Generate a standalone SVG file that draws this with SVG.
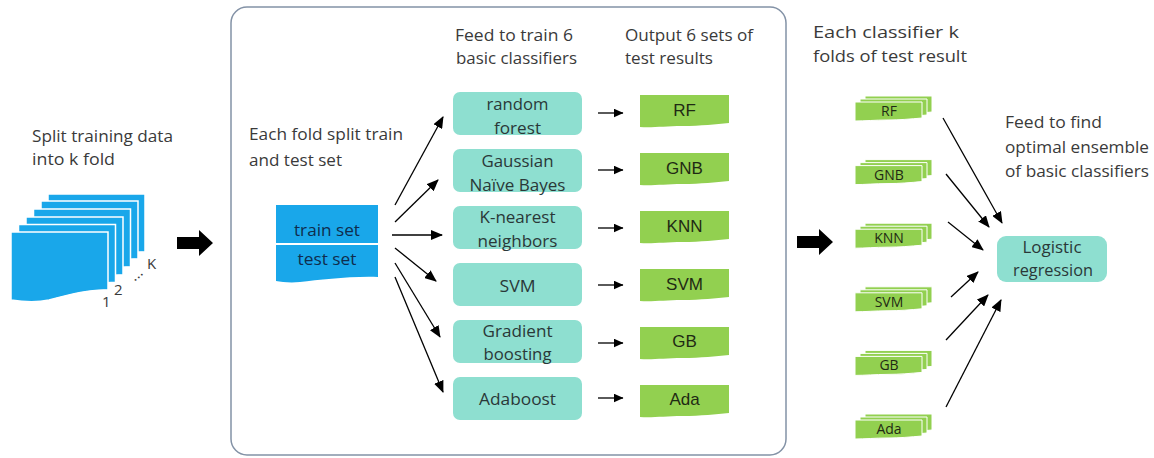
<svg xmlns="http://www.w3.org/2000/svg" xmlns:xlink="http://www.w3.org/1999/xlink" width="1154" height="458" viewBox="0 0 1154 458">
<style>
.lbl{font-family:"Open Sans","Liberation Sans",sans-serif;font-size:16.5px;fill:#3a3a3a}
.cls{font-family:"Open Sans","Liberation Sans",sans-serif;font-size:16.5px;fill:#2a3838;text-anchor:middle}
.res{font-family:"Liberation Sans",Arial,sans-serif;font-size:17px;fill:#1f2a14;text-anchor:middle}
.stk{font-family:"Open Sans","Liberation Sans",sans-serif;font-size:14px;fill:#1f2a14;text-anchor:middle}
.tt{font-family:"Open Sans","Liberation Sans",sans-serif;font-size:16.5px;fill:#0f2d4d;text-anchor:middle}
.sm{font-family:"Open Sans","Liberation Sans",sans-serif;font-size:15px;fill:#3a3a3a}
.teal{fill:#8edfd0}
.green{fill:#92d050}
.blue{fill:#19a7ea}
.sheet{fill:#19a7ea;stroke:#ffffff;stroke-width:1.5}
.layer{fill:#92d050;stroke:#ffffff;stroke-width:1}
.conn line{stroke:#000;stroke-width:1.3}
</style>
<defs>
<marker id="ah" viewBox="0 0 12 10" refX="11" refY="5" markerWidth="12" markerHeight="10" markerUnits="userSpaceOnUse" orient="auto"><path d="M0,0 L12,5 L0,10 z" fill="#000"/></marker>
<marker id="ahs" viewBox="0 0 10 9" refX="9.5" refY="4.5" markerWidth="10" markerHeight="9" markerUnits="userSpaceOnUse" orient="auto"><path d="M0,0 L10,4.5 L0,9 z" fill="#000"/></marker>
<path id="sheet" d="M0,0 H97 V58 C80,57 60,62 38,68 C25,71 12,70 0,68 Z"/>
<path id="res" d="M0,0 H89 V28 C75,29 62,31 42,31 C25,31 12,33 0,32 Z"/>
<path id="lay" d="M0,0 H67 V16 C55,17 45,18 32,18 C20,18 10,19 0,19 Z"/>
</defs>
<rect width="1154" height="458" fill="#ffffff"/>

<g id="split-label">
<text class="lbl" x="32" y="142" textLength="141" lengthAdjust="spacingAndGlyphs">Split training data</text>
<text class="lbl" x="32" y="165" textLength="83" lengthAdjust="spacingAndGlyphs">into k fold</text>
</g>

<g id="folds">
<use href="#sheet" class="sheet" x="48" y="194"/>
<use href="#sheet" class="sheet" x="41" y="201"/>
<use href="#sheet" class="sheet" x="33.5" y="209"/>
<use href="#sheet" class="sheet" x="26" y="217"/>
<use href="#sheet" class="sheet" x="18.5" y="224.5"/>
<use href="#sheet" class="sheet" x="11" y="232"/>
<text class="sm" x="147" y="269">K</text>
<text class="sm" x="130" y="279" transform="rotate(-40 136 274)">...</text>
<text class="sm" x="114" y="295">2</text>
<text class="sm" x="102" y="307">1</text>
</g>

<g id="big-arrow-1"><path d="M177,237 H199 V230 L213,243 L199,256 V249 H177 Z" fill="#000"/></g>

<g id="stage-box"><rect x="231" y="7" width="555" height="448" rx="16" fill="none" stroke="#8392a6" stroke-width="1.5"/></g>

<g id="fold-label">
<text class="lbl" x="249" y="140" textLength="154" lengthAdjust="spacingAndGlyphs">Each fold split train</text>
<text class="lbl" x="249" y="166" textLength="93" lengthAdjust="spacingAndGlyphs">and test set</text>
</g>

<g id="train-test">
<rect class="blue" x="276" y="205" width="102" height="38"/>
<path class="blue" d="M276,245 H378 V277 C350,276 320,280 300,282 C290,283 282,282 276,281 Z"/>
<text class="tt" x="327" y="236" textLength="66" lengthAdjust="spacingAndGlyphs">train set</text>
<text class="tt" x="327" y="265" textLength="59" lengthAdjust="spacingAndGlyphs">test set</text>
</g>

<g id="headers">
<text class="lbl" x="455" y="41" textLength="118" lengthAdjust="spacingAndGlyphs">Feed to train 6</text>
<text class="lbl" x="456" y="64" textLength="121" lengthAdjust="spacingAndGlyphs">basic classifiers</text>
<text class="lbl" x="625" y="41" textLength="128" lengthAdjust="spacingAndGlyphs">Output 6 sets of</text>
<text class="lbl" x="625" y="64" textLength="88" lengthAdjust="spacingAndGlyphs">test results</text>
</g>

<g id="clf-rf"><rect class="teal" x="453" y="92" width="129" height="43" rx="7"/>
<text class="cls" x="517.5" y="110" textLength="62" lengthAdjust="spacingAndGlyphs">random</text>
<text class="cls" x="517.5" y="134" textLength="47" lengthAdjust="spacingAndGlyphs">forest</text></g>
<g id="clf-gnb"><rect class="teal" x="453" y="149" width="129" height="43" rx="7"/>
<text class="cls" x="517.5" y="167" textLength="72" lengthAdjust="spacingAndGlyphs">Gaussian</text>
<text class="cls" x="517.5" y="191" textLength="96" lengthAdjust="spacingAndGlyphs">Naïve Bayes</text></g>
<g id="clf-knn"><rect class="teal" x="453" y="206" width="129" height="43" rx="7"/>
<text class="cls" x="517.5" y="223" textLength="76" lengthAdjust="spacingAndGlyphs">K-nearest</text>
<text class="cls" x="517.5" y="247" textLength="80" lengthAdjust="spacingAndGlyphs">neighbors</text></g>
<g id="clf-svm"><rect class="teal" x="453" y="263" width="129" height="43" rx="7"/>
<text class="cls" x="517.5" y="292" textLength="36" lengthAdjust="spacingAndGlyphs">SVM</text></g>
<g id="clf-gb"><rect class="teal" x="453" y="320" width="129" height="43" rx="7"/>
<text class="cls" x="517.5" y="337" textLength="70" lengthAdjust="spacingAndGlyphs">Gradient</text>
<text class="cls" x="517.5" y="360" textLength="68" lengthAdjust="spacingAndGlyphs">boosting</text></g>
<g id="clf-ada"><rect class="teal" x="453" y="377" width="129" height="43" rx="7"/>
<text class="cls" x="517.5" y="405" textLength="77" lengthAdjust="spacingAndGlyphs">Adaboost</text></g>

<g id="res-rf"><use href="#res" class="green" x="640" y="95"/><text class="res" x="684.5" y="116">RF</text></g>
<g id="res-gnb"><use href="#res" class="green" x="640" y="153"/><text class="res" x="684.5" y="174">GNB</text></g>
<g id="res-knn"><use href="#res" class="green" x="640" y="211"/><text class="res" x="684.5" y="232">KNN</text></g>
<g id="res-svm"><use href="#res" class="green" x="640" y="269"/><text class="res" x="684.5" y="290">SVM</text></g>
<g id="res-gb"><use href="#res" class="green" x="640" y="327"/><text class="res" x="684.5" y="347">GB</text></g>
<g id="res-ada"><use href="#res" class="green" x="640" y="385"/><text class="res" x="684.5" y="405">Ada</text></g>

<g id="big-arrow-2"><path d="M797,236 H819 V229 L833,242 L819,255 V248 H797 Z" fill="#000"/></g>

<g id="kfold-label">
<text class="lbl" x="813" y="38" textLength="146" lengthAdjust="spacingAndGlyphs">Each classifier k</text>
<text class="lbl" x="813" y="62" textLength="154" lengthAdjust="spacingAndGlyphs">folds of test result</text>
</g>

<g id="stk-rf"><use href="#lay" class="layer" x="865" y="96"/><use href="#lay" class="layer" x="860" y="99"/><use href="#lay" class="layer" x="855" y="102"/><text class="stk" x="889" y="116">RF</text></g>
<g id="stk-gnb"><use href="#lay" class="layer" x="865" y="159.6"/><use href="#lay" class="layer" x="860" y="162.6"/><use href="#lay" class="layer" x="855" y="165.6"/><text class="stk" x="889" y="179.6">GNB</text></g>
<g id="stk-knn"><use href="#lay" class="layer" x="865" y="223.2"/><use href="#lay" class="layer" x="860" y="226.2"/><use href="#lay" class="layer" x="855" y="229.2"/><text class="stk" x="889" y="243.2">KNN</text></g>
<g id="stk-svm"><use href="#lay" class="layer" x="865" y="286.8"/><use href="#lay" class="layer" x="860" y="289.8"/><use href="#lay" class="layer" x="855" y="292.8"/><text class="stk" x="889" y="306.8">SVM</text></g>
<g id="stk-gb"><use href="#lay" class="layer" x="865" y="350.4"/><use href="#lay" class="layer" x="860" y="353.4"/><use href="#lay" class="layer" x="855" y="356.4"/><text class="stk" x="889" y="370.4">GB</text></g>
<g id="stk-ada"><use href="#lay" class="layer" x="865" y="414"/><use href="#lay" class="layer" x="860" y="417"/><use href="#lay" class="layer" x="855" y="420"/><text class="stk" x="889" y="434">Ada</text></g>

<g id="ensemble-label">
<text class="lbl" x="1005" y="128" textLength="97" lengthAdjust="spacingAndGlyphs">Feed to find</text>
<text class="lbl" x="1005" y="153" textLength="144" lengthAdjust="spacingAndGlyphs">optimal ensemble</text>
<text class="lbl" x="1005" y="177" textLength="144" lengthAdjust="spacingAndGlyphs">of basic classifiers</text>
</g>

<g id="logistic"><rect class="teal" x="997" y="236" width="110" height="46" rx="9"/>
<text class="cls" x="1052" y="253" textLength="59" lengthAdjust="spacingAndGlyphs">Logistic</text>
<text class="cls" x="1053" y="276" textLength="80" lengthAdjust="spacingAndGlyphs">regression</text></g>

<g id="connectors" class="conn">
<line x1="395" y1="205" x2="443" y2="117" marker-end="url(#ah)"/>
<line x1="395" y1="222" x2="438" y2="180" marker-end="url(#ah)"/>
<line x1="392" y1="235" x2="442" y2="235" marker-end="url(#ah)"/>
<line x1="395" y1="248" x2="436" y2="281" marker-end="url(#ah)"/>
<line x1="395" y1="263" x2="440" y2="337" marker-end="url(#ah)"/>
<line x1="395" y1="277" x2="443" y2="392" marker-end="url(#ah)"/>
<line x1="598" y1="113" x2="623" y2="113" marker-end="url(#ahs)"/>
<line x1="598" y1="170" x2="623" y2="170" marker-end="url(#ahs)"/>
<line x1="598" y1="228" x2="623" y2="228" marker-end="url(#ahs)"/>
<line x1="598" y1="285" x2="623" y2="285" marker-end="url(#ahs)"/>
<line x1="598" y1="343" x2="623" y2="343" marker-end="url(#ahs)"/>
<line x1="598" y1="398" x2="623" y2="398" marker-end="url(#ahs)"/>
<line x1="943" y1="118" x2="1002" y2="223" marker-end="url(#ah)"/>
<line x1="946" y1="174" x2="989" y2="227" marker-end="url(#ah)"/>
<line x1="948" y1="222" x2="983" y2="250" marker-end="url(#ah)"/>
<line x1="951" y1="297" x2="978" y2="272" marker-end="url(#ah)"/>
<line x1="946" y1="340" x2="988" y2="295" marker-end="url(#ah)"/>
<line x1="946" y1="407" x2="1001" y2="300" marker-end="url(#ah)"/>
</g>
</svg>
